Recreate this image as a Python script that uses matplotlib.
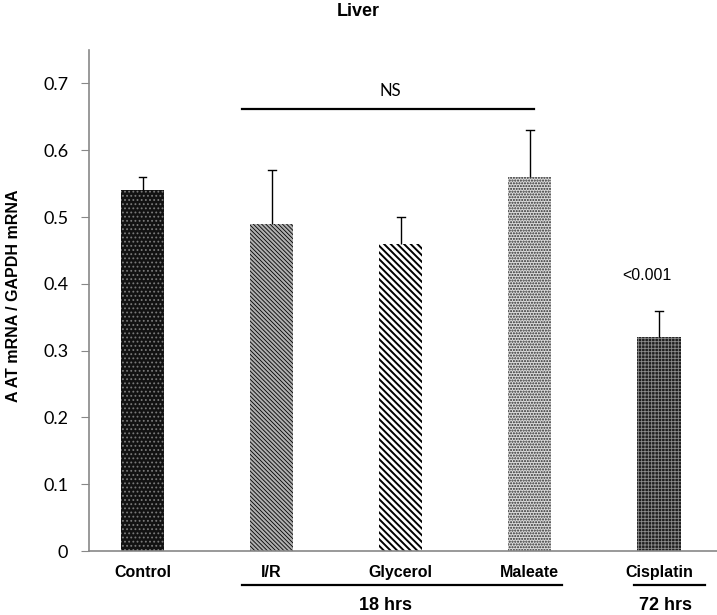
import matplotlib
matplotlib.use("Agg")
import matplotlib.pyplot as plt
import matplotlib.transforms as mtransforms

# data
groups = ["Control", "I/R", "Glycerol", "Maleate", "Cisplatin"]
ratio = [0.54, 0.49, 0.46, 0.56, 0.32]
sem = [0.02, 0.08, 0.04, 0.07, 0.04]
y_ticks = [0, 0.1, 0.2, 0.3, 0.4, 0.5, 0.6, 0.7]
y_tick_labels = ["0", "0.1", "0.2", "0.3", "0.4", "0.5", "0.6", "0.7"]
time_labels = ["18 hrs", "72 hrs"]

# per-bar look: face, hatch colour, hatch, hatch line width
faces = ["#121212", "#b0b0b0", "white", "#dcdcdc", "#1e1e1e"]
hatch_cols = ["#7a7a7a", "black", "black", "#2a2a2a", "#8c8c8c"]
hatches = ["....", "\\" * 8, "\\" * 5, "......", "+++++"]
hatch_lws = [0.8, 0.6, 1.4, 1.0, 0.6]

fig = plt.figure(figsize=(7.17, 6.15), dpi=100)
ax = fig.add_axes([89 / 717, 64 / 615, 628 / 717, 501 / 615])

x = list(range(len(groups)))
for xi, h, fc, hc, hp, hl in zip(x, ratio, faces, hatch_cols, hatches, hatch_lws):
    with plt.rc_context({"hatch.linewidth": hl}):
        ax.bar(xi, h, width=0.335, color=fc, edgecolor=hc, hatch=hp, linewidth=0, zorder=2)

# upper error bars only
tops = [r + s for r, s in zip(ratio, sem)]
ax.vlines(x, ratio, tops, color="black", lw=1, zorder=3)
for xi, t in zip(x, tops):
    ax.plot([xi - 0.03, xi + 0.03], [t, t], color="black", lw=1, zorder=3)

ax.set_xlim(-0.415, 4.45)
ax.set_ylim(0, 0.75)
ax.set_yticks(y_ticks)
ax.set_yticklabels(y_tick_labels, family="Lato", fontsize=13)
ax.set_xticks(x)
ax.set_xticklabels(groups, family="Liberation Sans", fontweight="bold", fontsize=11.5)
ax.tick_params(axis="x", length=0, pad=10)
ax.tick_params(axis="y", length=6, color="#888888", pad=9)

for side in ["top", "right"]:
    ax.spines[side].set_visible(False)
for side in ["left", "bottom"]:
    ax.spines[side].set_color("#888888")
    ax.spines[side].set_linewidth(1.2)

ax.set_ylabel("A AT mRNA / GAPDH mRNA", family="Liberation Sans", fontweight="bold", fontsize=11.5)
ax.yaxis.set_label_coords(-0.109, 0.51)

fig.suptitle("Liver", x=0.5, y=0.981, va="center", family="Liberation Sans",
             fontweight="bold", fontsize=13)

# NS bracket over the 18 hrs groups
ax.plot([0.77, 3.03], [0.662, 0.662], color="black", lw=1.6, zorder=3)
ax.text(1.92, 0.689, "NS", ha="center", va="center", family="Lato", fontsize=12)
ax.text(3.91, 0.413, "<0.001", ha="center", va="center", family="Liberation Sans", fontsize=11.5)

# group lines and time labels below the axis
trans = mtransforms.blended_transform_factory(ax.transData, ax.transAxes)
ax.plot([0.77, 3.25], [-0.068, -0.068], color="black", lw=1.6, transform=trans, clip_on=False)
ax.plot([3.81, 4.36], [-0.068, -0.068], color="black", lw=1.6, transform=trans, clip_on=False)
ax.text(1.88, -0.108, time_labels[0], ha="center", va="center", transform=trans,
        family="Liberation Sans", fontweight="bold", fontsize=13)
ax.text(4.05, -0.108, time_labels[1], ha="center", va="center", transform=trans,
        family="Liberation Sans", fontweight="bold", fontsize=13)

fig.savefig("out.png", dpi=100)
